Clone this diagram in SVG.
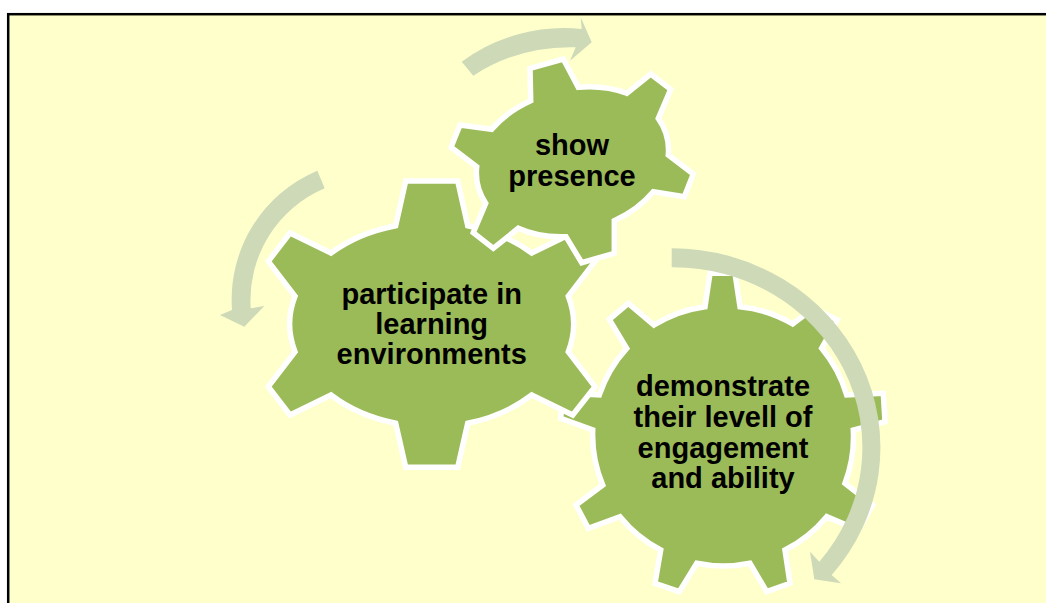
<svg xmlns="http://www.w3.org/2000/svg" width="1046" height="603" viewBox="0 0 1046 603">
<style>
.gear{fill:#9BBB59;stroke:#FFFFFF;stroke-width:5.5;stroke-linejoin:miter;stroke-miterlimit:4}
.arrow{fill:#CDD9B7;stroke:none}
.label{font-family:"Liberation Sans",Arial,sans-serif;font-weight:700;font-size:29px;fill:#000000;text-anchor:middle}
</style>
<rect x="0" y="0" width="1046" height="603" fill="#FFFFFF"/>
<rect x="8.2" y="14.2" width="1040" height="592" fill="#FFFFCC" stroke="#000000" stroke-width="2.5"/>
<g id="gear-demonstrate">
<path class="gear" d="M710,273.3 L735,273.3 L740,306.7 A130 130 0 0 1 792.7,324 L813.3,308.3 L837.3,320 L821.7,348.3 A130 130 0 0 1 846.7,395 L883.3,393.3 L885,421.7 L853.3,430 A130 130 0 0 1 845,483.3 L872.7,505 L858.3,530 L826.7,516.7 A130 130 0 0 1 785,550 L790,583.3 L766.7,591.7 L750,563.3 A130 130 0 0 1 696.7,563.3 L679.3,591.7 L655,583.3 L660.7,550 A130 130 0 0 1 620,516.7 L588.3,528.3 L576,505 L602.7,485 A130 130 0 0 1 592.7,430 L560.7,418.3 L562.7,393 L599.3,395 A130 130 0 0 1 626.7,348.3 L609.3,319.3 L628.3,303.3 L654,325 A130 130 0 0 1 705,306.7 Z"/>
<text class="label" x="723" y="396">demonstrate</text>
<text class="label" x="723" y="426.7">their levell of</text>
<text class="label" x="723" y="457.7">engagement</text>
<text class="label" x="723" y="488">and ability</text>
</g>
<g id="gear-participate">
<path class="gear" d="M405.7,181 L457.7,181 L467.7,225.7 A141 102 0 0 1 531.7,253 L572.7,233 L595,261.3 L568.3,296.3 A141 102 0 0 1 568.3,351.7 L595,386.7 L572.7,415 L531.7,395 A141 102 0 0 1 467.7,423.3 L457.7,467.3 L405.7,467.3 L395.7,423.3 A141 102 0 0 1 331,395 L290,415 L268.3,386.7 L295,351.7 A141 102 0 0 1 295,296.3 L268.3,261.3 L290,233 L331,253 A141 102 0 0 1 395.7,225.7 Z"/>
<text class="label" x="431.7" y="304">participate in</text>
<text class="label" x="431.7" y="334">learning</text>
<text class="label" x="431.7" y="364">environments</text>
</g>
<g id="gear-show">
<path class="gear" d="M530,68.3 L563.3,59 L578.3,87.3 A97 72 -15 0 1 626.7,93.3 L650.7,74 L670.7,89.3 L658.3,118.3 A97 72 -15 0 1 668.3,155 L693.3,174 L684.3,196.7 L653.3,191.7 A97 72 -15 0 1 614.3,220.7 L614.3,253.3 L581.7,262.7 L566,236.7 A97 72 -15 0 1 518.3,228.3 L493.3,248.3 L473.3,232.7 L485.7,203.3 A97 72 -15 0 1 476.7,166.7 L451,147.3 L460,125 L491.7,129.3 A97 72 -15 0 1 530.7,100.7 Z"/>
<text class="label" x="572" y="155">show</text>
<text class="label" x="572" y="186">presence</text>
</g>
<g id="connectors">
<path class="arrow" d="M461.7,61.7 A165 155 0 0 1 581.7,29 L580.7,17.3 L591.7,42.3 L570,60.7 L575.7,47.3 A162 142 0 0 0 473.3,75.7 Z"/>
<path class="arrow" d="M317.3,170.7 A140 140 0 0 0 232,310 L220,315 L244.3,326.7 L264.3,306 L250.7,308.3 A121.5 121.5 0 0 1 324.7,188.3 Z"/>
<path class="arrow" d="M671.7,248.3 A209 199 0 0 1 831.7,575 L841,583.3 L814.3,579.3 L810,551.7 L819.3,561.7 A189 180 0 0 0 671.7,267.3 Z"/>
</g>
</svg>
